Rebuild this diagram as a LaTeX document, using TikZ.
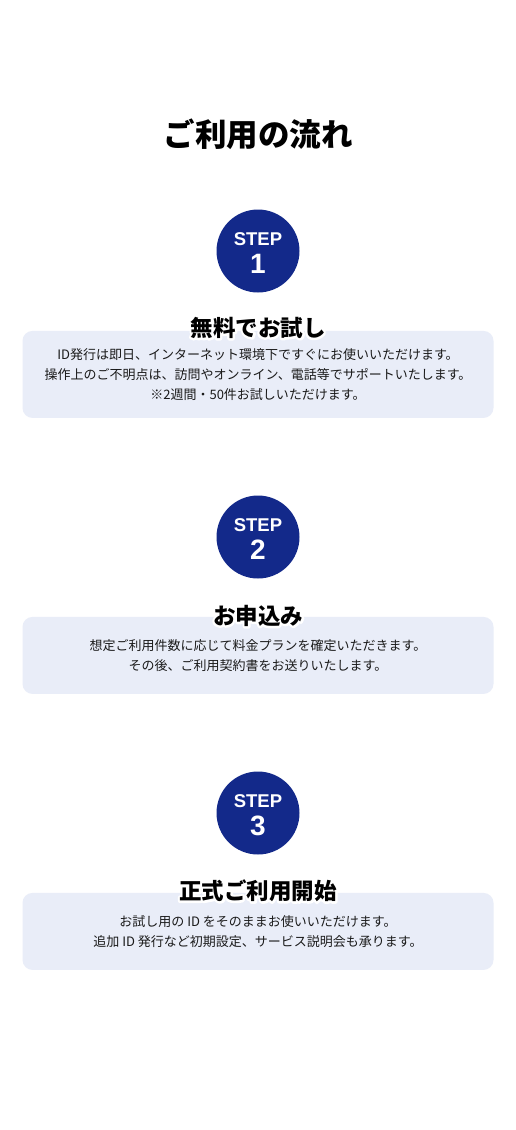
\documentclass[tikz,border=0pt]{standalone}
\usepackage{fontspec}
\setmainfont{Noto Sans CJK JP}
\newfontfamily\stepfont{Liberation Sans}
\usetikzlibrary{positioning,calc}
\definecolor{cnavy}{HTML}{13298A}
\definecolor{ccard}{HTML}{E9EDF8}
\definecolor{ctext}{HTML}{1A1A1A}
% white outline round a heading (stroked copy under the text)
\newcommand\halotext[1]{\makebox[0pt][l]{\color{white}\special{pdf:literal direct 1 Tr 4.6 w 1 j 1 J}#1\special{pdf:literal direct 0 Tr}}#1}

\begin{document}
\begin{tikzpicture}[
  x=1pt, y=-1pt,
  stepcircle/.style={circle, fill=cnavy, minimum size=83pt, inner sep=0pt},
  steplabel/.style={text=white, font=\stepfont\bfseries\fontsize{18.5}{18.5}\selectfont, inner sep=0pt},
  stepnum/.style={text=white, font=\stepfont\bfseries\fontsize{28}{28}\selectfont, inner sep=0pt},
  card/.style={rounded corners=10pt, fill=ccard, minimum width=471pt, align=center,
               text=ctext, font=\fontsize{13}{20}\selectfont, inner sep=0pt},
  cardtitle/.style={font=\bfseries\fontsize{22.5}{22.5}\selectfont, inner sep=0pt, text=black},
]
\useasboundingbox[fill=white] (0,0) rectangle (516,1130);

% ---- title ----
\node[font=\bfseries\fontsize{31.5}{31.5}\selectfont, inner sep=0pt] (title) at (258,134) {ご利用の流れ};

% ---- step 1 ----
\node[stepcircle] (s1) at (258,251) {};
\node[steplabel] (s1lab) at ($(s1.center)+(0,-12)$) {STEP};
\node[stepnum] (s1num) at ($(s1.center)+(0,13)$) {1};
\node[card, minimum height=87pt, below=38pt of s1] (c1) {ID発行は即日、インターネット環境下ですぐにお使いいただけます。\\操作上のご不明点は、訪問やオンライン、電話等でサポートいたします。\\※2週間・50件お試しいただけます。};
\node[cardtitle, yshift=3pt] (t1) at (c1.north) {\halotext{無料でお試し}};

% ---- step 2 ----
\node[stepcircle] (s2) at (258,537) {};
\node[steplabel] (s2lab) at ($(s2.center)+(0,-12)$) {STEP};
\node[stepnum] (s2num) at ($(s2.center)+(0,13)$) {2};
\node[card, minimum height=77pt, below=38pt of s2] (c2) {想定ご利用件数に応じて料金プランを確定いただきます。\\その後、ご利用契約書をお送りいたします。};
\node[cardtitle, yshift=1pt] (t2) at (c2.north) {\halotext{お申込み}};

% ---- step 3 ----
\node[stepcircle] (s3) at (258,813) {};
\node[steplabel] (s3lab) at ($(s3.center)+(0,-12)$) {STEP};
\node[stepnum] (s3num) at ($(s3.center)+(0,13)$) {3};
\node[card, minimum height=77pt, below=38pt of s3] (c3) {お試し用の ID をそのままお使いいただけます。\\追加 ID 発行など初期設定、サービス説明会も承ります。};
\node[cardtitle, yshift=2pt] (t3) at (c3.north) {\halotext{正式ご利用開始}};
\end{tikzpicture}
\end{document}
